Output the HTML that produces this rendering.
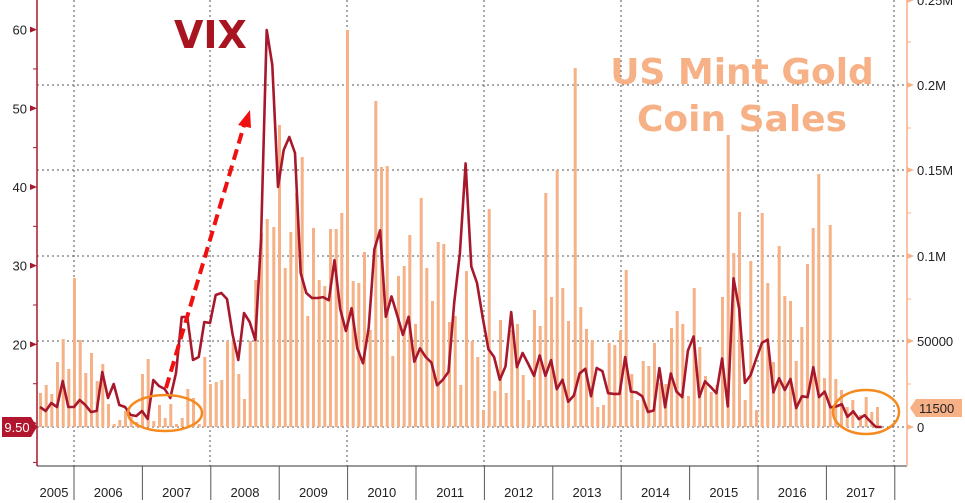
<!DOCTYPE html>
<html><head><meta charset="utf-8">
<style>
html,body{margin:0;padding:0;background:#fff;}
svg{display:block;font-family:"Liberation Sans",sans-serif;}
</style></head>
<body>
<svg id="c" width="965" height="503" viewBox="0 0 965 503" xmlns="http://www.w3.org/2000/svg">
<g id="grid" stroke="#555" stroke-width="1" stroke-dasharray="2,3" fill="none"></g>
<g id="bars" fill="#f6b187"></g>
<g id="axes"></g>
<polyline id="vix" fill="none" stroke="#a8182c" stroke-width="2.6" stroke-linejoin="round"/>
<text x="174" y="48" font-family="DejaVu Sans, sans-serif" font-weight="bold" font-size="38" fill="#a8141f">VIX</text>
<text x="742" y="84" text-anchor="middle" font-family="DejaVu Sans, sans-serif" font-weight="bold" font-size="36" fill="#f6b187">US Mint Gold</text>
<text x="742" y="131" text-anchor="middle" font-family="DejaVu Sans, sans-serif" font-weight="bold" font-size="36" fill="#f6b187">Coin Sales</text>
<line x1="166" y1="388" x2="245" y2="122" stroke="#f01010" stroke-width="4" stroke-dasharray="11,6"/>
<polygon points="250,110 238,125 251,128" fill="#f01010"/>
<ellipse cx="165" cy="413" rx="37" ry="18" fill="none" stroke="#f58a1f" stroke-width="2.5"/>
<ellipse cx="866" cy="412" rx="33" ry="22" fill="none" stroke="#f58a1f" stroke-width="2.5"/>
</svg>
<script>
var NS="http://www.w3.org/2000/svg";
function el(p,t,a,txt){var e=document.createElementNS(NS,t);for(var k in a)e.setAttribute(k,a[k]);if(txt!==undefined)e.textContent=txt;document.getElementById(p).appendChild(e);return e;}
[85,170,256,341,427].forEach(function(y){el("grid","line",{x1:37,x2:907,y1:y,y2:y});});
[74,210,347,484,621,758,894].forEach(function(x){el("grid","line",{x1:x,x2:x,y1:0,y2:466});});
var B=[];
var z1=[[120,393],[137,385],[154,394],[171,362],[188,339],[205,369],[222,278],[239,340],[256,373],[273,353],[290,381],[307,364],[324,404],[341,424],[358,420],[375,411],[392,417],[409,422],[426,374],[443,359],[460,421],[477,405],[494,418],[511,404],[528,424],[545,418],[562,389],[579,398],[596,424],[613,357],[630,384],[647,382],[664,380],[681,341],[698,341],[715,374],[732,399],[749,341],[766,280],[783,233],[800,219]];
z1.forEach(function(p){B.push([p[0]/3,p[1]]);});
var z3=[[10,227],[27,125],[44,268],[61,232],[78,193],[95,157],[112,316],[129,228],[146,280],[163,286],[180,229],[197,229],[214,213],[231,30],[248,281],[265,283],[282,252],[299,330],[316,101],[333,167],[350,166],[367,356],[384,276],[401,266],[418,235],[435,324],[452,198],[469,268],[486,301],[503,242],[520,244],[537,322],[554,316],[571,385],[588,271],[605,341],[622,357],[639,410],[656,209],[673,391],[690,320],[707,393],[724,330],[741,324],[758,375],[775,400],[792,310],[809,326],[826,193],[843,297],[860,170],[877,288],[894,321]];
z3.forEach(function(p){B.push([270+p[0]/3,p[1]]);});
var z4=[[44,68],[61,307],[78,329],[95,340],[112,407],[129,405],[146,343],[163,345],[180,331],[197,270],[214,374],[231,400],[248,361],[265,366],[282,343],[299,383],[316,384],[333,328],[350,311],[367,324],[384,396],[401,288],[418,347],[435,376],[452,392],[469,385],[486,297],[503,135],[520,253],[537,212],[554,400],[571,261],[588,410],[605,213],[622,283],[639,362],[656,246],[673,296],[690,301],[707,361],[724,327],[741,264],[758,228],[775,174],[792,378],[809,225],[826,379],[843,390],[860,407],[877,400]];
z4.forEach(function(p){B.push([560+p[0]/3,p[1]]);});
[[180,415],[197,397],[214,412],[231,407]].forEach(function(p){B.push([800+p[0]/3,p[1]]);});
B.forEach(function(b){el("bars","rect",{x:(b[0]-1).toFixed(1),y:b[1],width:3,height:Math.max(0,427-b[1])});});
var pts=[];
var zl=[[120,407],[137,411],[154,403],[171,407],[188,381],[205,407],[222,407],[239,400],[256,405],[273,412],[290,411],[307,372],[324,398],[341,384],[358,405],[375,407],[392,415],[409,416],[426,411],[443,419],[460,380],[477,386],[494,389],[511,398],[528,373],[545,317],[562,317],[579,360],[596,357],[613,322],[630,323],[647,295],[664,293],[681,299],[698,335],[715,360],[732,313],[749,322],[766,340],[783,240],[800,30],[817,65],[834,187],[851,150],[868,137],[885,153],[902,273],[919,293],[936,298],[953,298]];
zl.forEach(function(p){pts.push([p[0]/3,p[1]]);});
var V=[26.0,25.6,30.7,24.5,21.7,
24.6,19.5,17.6,22.1,32.1,34.5,23.5,26.1,23.7,21.2,23.5,17.8,
19.5,18.4,17.7,14.8,15.5,16.5,25.3,31.6,43.0,29.9,27.8,23.4,
19.4,18.4,15.5,17.2,24.1,17.1,18.9,17.5,16.0,18.6,16.0,18.0,
14.3,15.5,12.7,13.5,16.3,16.9,13.4,17.0,16.6,13.8,13.7,13.7,
18.4,14.0,13.9,13.4,11.4,11.6,17.0,12.0,16.3,14.0,13.3,19.2,
21.0,13.3,15.3,14.6,13.8,18.2,12.1,28.4,24.5,15.1,16.1,18.2,
20.2,20.6,13.9,15.7,14.2,15.6,11.9,13.4,13.3,17.1,13.3,14.0,
12.0,12.1,12.4,10.8,11.5,10.5,11.0,10.2,9.5,9.5];
V.forEach(function(v,i){var m=43+i;pts.push([74+m*5.7+4,427-(v-9.5)*7.87]);});
document.getElementById("vix").setAttribute("points",pts.map(function(p){return p[0].toFixed(1)+","+p[1].toFixed(1);}).join(" "));
el("axes","line",{x1:37,x2:37,y1:0,y2:466,stroke:"#a8182c","stroke-width":1.5});
el("axes","line",{x1:37,x2:907,y1:466,y2:466,stroke:"#333","stroke-width":1});
el("axes","line",{x1:907,x2:907,y1:0,y2:466,stroke:"#f6b187","stroke-width":1.5});
for(var v=5;v<=65;v+=5){var y=427-(v-9.5)*7.87;if(y<0||y>466)continue;
 if(v%10==0){el("axes","polygon",{points:"30,"+(y-3)+" 37,"+y+" 30,"+(y+3),fill:"#a8182c"});el("axes","text",{x:27,y:y+5,"text-anchor":"end","font-size":13,fill:"#222"},String(v));}
 else el("axes","line",{x1:33,x2:37,y1:y,y2:y,stroke:"#a8182c"});}
var R=[[427,"0"],[341,"50000"],[256,"0.1M"],[170,"0.15M"],[85,"0.2M"],[0,"0.25M"]];
R.forEach(function(r){var y=r[0];el("axes","polygon",{points:"907,"+(y-3)+" 914,"+y+" 907,"+(y+3),fill:"#f6b187"});el("axes","text",{x:917,y:y+5,"font-size":13,fill:"#222"},r[1]);});
[384,299,213,128,42].forEach(function(y){el("axes","line",{x1:907,x2:911,y1:y,y2:y,stroke:"#f6b187"});});
for(var i=0;i<13;i++){var x=74+i*68.4;el("axes","line",{x1:x,x2:x,y1:466,y2:500,stroke:"#555"});}
var yrs=["2005","2006","2007","2008","2009","2010","2011","2012","2013","2014","2015","2016","2017"];
yrs.forEach(function(s,i){var cx=i==0?54:74+(i-1)*68.4+34.2;el("axes","text",{x:cx,y:497,"text-anchor":"middle","font-size":13,fill:"#222"},s);});
el("axes","polygon",{points:"2,417 31,417 37,427 31,437 2,437",fill:"#b2162e"});
el("axes","text",{x:17,y:432,"text-anchor":"middle","font-size":13,fill:"#fff"},"9.50");
el("axes","polygon",{points:"910,408 916,399 962,399 962,417 916,417",fill:"#f6b187"});
el("axes","text",{x:919,y:413,"font-size":13,fill:"#222"},"11500");
</script>
</body></html>
